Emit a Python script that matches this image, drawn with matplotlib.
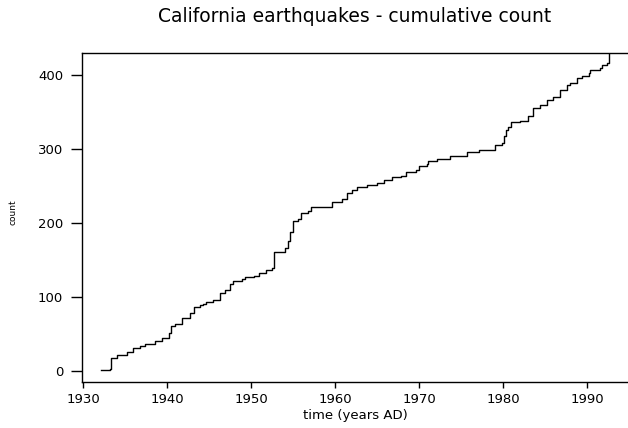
import matplotlib
matplotlib.use("Agg")
import matplotlib.pyplot as plt

# cumulative count of California earthquakes (step knots)
years = [1932.2, 1933.2, 1933.3, 1934.0, 1935.2, 1936.0, 1936.8, 1937.4, 1938.6, 1939.4,
         1940.2, 1940.5, 1941.0, 1941.8, 1942.7, 1943.2, 1943.9, 1944.3, 1944.7, 1945.5,
         1946.3, 1946.9, 1947.5, 1947.9, 1948.9, 1949.3, 1950.3, 1950.9, 1951.8, 1952.5,
         1952.7, 1954.0, 1954.4, 1954.6, 1955.0, 1955.6, 1956.0, 1956.8, 1957.2, 1959.6,
         1960.8, 1961.4, 1962.0, 1962.6, 1963.8, 1965.0, 1965.8, 1966.8, 1967.9, 1968.5,
         1969.7, 1970.0, 1970.9, 1971.1, 1972.1, 1973.7, 1974.9, 1975.7, 1977.1, 1978.7,
         1979.1, 1979.9, 1980.1, 1980.4, 1980.6, 1981.0, 1982.0, 1983.0, 1983.6, 1984.4,
         1985.2, 1986.0, 1986.8, 1987.6, 1988.0, 1988.8, 1989.4, 1990.2, 1990.4, 1991.6,
         1991.8, 1992.4, 1992.6]
counts = [1, 3, 17, 21, 26, 31, 34, 37, 40, 45,
          51, 61, 63, 72, 78, 87, 89, 91, 93, 96,
          105, 109, 118, 122, 124, 127, 128, 132, 136, 139,
          161, 166, 175, 188, 202, 206, 213, 216, 222, 229,
          232, 241, 245, 248, 251, 254, 258, 262, 264, 269,
          272, 277, 280, 284, 287, 290, 291, 296, 298, 299,
          305, 308, 317, 325, 330, 336, 338, 344, 355, 359,
          366, 370, 380, 386, 389, 396, 399, 402, 407, 409,
          414, 416, 431]

xticks = [1930, 1940, 1950, 1960, 1970, 1980, 1990]
yticks = [0, 100, 200, 300, 400]

plt.rcParams['font.family'] = ['DejaVu Sans']

fig = plt.figure(figsize=(6.28, 4.28), dpi=100)
ax = fig.add_axes([82 / 628, 1 - 382 / 428, 1 - 82 / 628, 329 / 428])

ax.step(years, counts, where='post', color='black', lw=1.0)

ax.set_xlim(1929.88, 1994.88)
ax.set_ylim(-14.9, 429.7)
ax.set_xticks(xticks)
ax.set_yticks(yticks)

for s in ['left', 'bottom', 'top']:
    ax.spines[s].set_linewidth(1.0)
    ax.spines[s].set_color('black')
ax.spines['right'].set_visible(False)

ax.tick_params(axis='x', direction='out', length=4.5, width=1, pad=3.5, labelsize=9.5)
ax.tick_params(axis='y', direction='out', length=8, width=1, pad=5.5, labelsize=9.5)

ax.set_xlabel('time (years AD)', fontsize=9.5, va='center')
ax.xaxis.set_label_coords((355 - 82) / 546, -(416 - 382) / 329)
ax.set_ylabel('count', fontsize=6.5, va='center')
ax.yaxis.set_label_coords((13 - 82) / 546, 1 - (212 - 53) / 329)

fig.text(355 / 628, 1 - 17 / 428, 'California earthquakes - cumulative count',
         ha='center', va='center', fontsize=13.5)

fig.savefig('out.png', dpi=100)
